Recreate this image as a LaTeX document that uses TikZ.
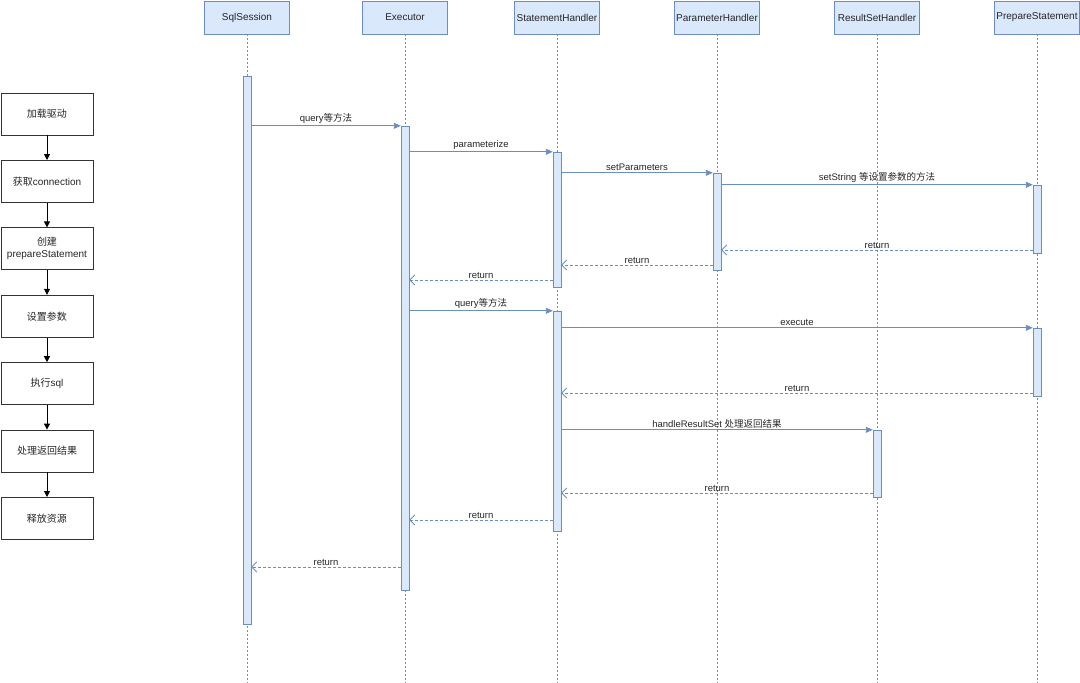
\documentclass[tikz,border=0pt]{standalone}
\usepackage{fontspec}
\setmainfont{Liberation Sans}
\newfontfamily\cjk{Noto Sans CJK SC}
\usetikzlibrary{positioning, arrows.meta}
\definecolor{actfill}{HTML}{DAE8FC}
\definecolor{actline}{HTML}{6C8EBF}
\tikzset{
 head/.style = {
    rectangle, draw=actline, fill=actfill,
    minimum width=85pt, minimum height=33pt,
    inner sep=0pt, text=black!85,
    font=\fontsize{10}{12}\selectfont},
 actbar/.style = {
    rectangle, draw=actline, fill=actfill,
    minimum width=8pt, inner sep=0pt},
 lifeline/.style = {
    draw=actline, line width=0.9pt, dash pattern=on 1.5pt off 2.5pt},
 call/.style = {
    draw=actline, line width=0.9pt, -{Triangle[length=7pt,width=6pt]}},
 ret/.style = {
    draw=actline, line width=0.8pt, dash pattern=on 2.5pt off 2.5pt,
    -{Straight Barb[length=5pt,width=10pt]}},
 msg/.style = {
    midway, above, inner sep=1.5pt, text=black!85,
    font=\fontsize{9.5}{11}\selectfont},
 stepbox/.style = {
    rectangle, draw=black!80, line width=0.8pt,
    minimum width=92pt, minimum height=42pt,
    align=center, inner sep=0pt, text=black!85,
    font=\fontsize{10}{12}\selectfont},
 flow/.style = {
    draw=black, line width=0.8pt, -{Triangle[length=6pt,width=6pt]}},
}
\begin{document}
\begin{tikzpicture}[x=1pt, y=-1pt, node distance=24.6pt]
\useasboundingbox (0,0) rectangle (1080,683);
\coordinate (bottom) at (0,683);

% Place participants
\node [head] (sql)   at (247,17.5)  {SqlSession};
\node [head] (exe)   at (405,17.5)  {Executor};
\node [head] (stmt)  at (557,17.5)  {StatementHandler};
\node [head] (param) at (717,17.5)  {ParameterHandler};
\node [head] (rset)  at (877,17.5)  {ResultSetHandler};
\node [head] (pst)   at (1037,17.5) {PrepareStatement};

\foreach \p in {sql, exe, stmt, param, rset, pst}
    \draw[lifeline] (\p.south) -- (\p |- bottom);

% Activation bars
\node [actbar, minimum height=548pt] (sqlA)   at (247,350)   {};
\node [actbar, minimum height=464pt] (exeA)   at (405,358)   {};
\node [actbar, minimum height=135pt] (stmtA)  at (557,219.5) {};
\node [actbar, minimum height=220pt] (stmtB)  at (557,421)   {};
\node [actbar, minimum height=97pt]  (paramA) at (717,221.5) {};
\node [actbar, minimum height=68pt]  (pstA)   at (1037,219)  {};
\node [actbar, minimum height=68pt]  (pstB)   at (1037,362)  {};
\node [actbar, minimum height=67pt]  (rsetA)  at (877,463.5) {};

% Return points
\coordinate (r1) at (pstA.west |- 0,250);
\coordinate (r2) at (paramA.west |- 0,265);
\coordinate (r3) at (stmtA.west |- 0,280);
\coordinate (r4) at (pstB.west |- 0,393);
\coordinate (r5) at (rsetA.west |- 0,493);
\coordinate (r6) at (stmtB.west |- 0,520);
\coordinate (r7) at (exeA.west |- 0,567);

% Messages
\draw[call] (sqlA.east |- exeA.north) -- (exeA.north west) node[msg] {query{\cjk 等方法}};
\draw[call] (exeA.east |- stmtA.north) -- (stmtA.north west) node[msg] {parameterize};
\draw[call] (stmtA.east |- paramA.north) -- (paramA.north west) node[msg] {setParameters};
\draw[call] (paramA.east |- pstA.north) -- (pstA.north west) node[msg] {setString {\cjk 等设置参数的方法}};
\draw[ret] (r1) -- (paramA.east |- r1) node[msg] {return};
\draw[ret] (r2) -- (stmtA.east |- r2) node[msg] {return};
\draw[ret] (r3) -- (exeA.east |- r3) node[msg] {return};
\draw[call] (exeA.east |- stmtB.north) -- (stmtB.north west) node[msg] {query{\cjk 等方法}};
\draw[call] (stmtB.east |- pstB.north) -- (pstB.north west) node[msg] {execute};
\draw[ret] (r4) -- (stmtB.east |- r4) node[msg] {return};
\draw[call] (stmtB.east |- rsetA.north) -- (rsetA.north west) node[msg] {handleResultSet {\cjk 处理返回结果}};
\draw[ret] (r5) -- (stmtB.east |- r5) node[msg] {return};
\draw[ret] (r6) -- (exeA.east |- r6) node[msg] {return};
\draw[ret] (r7) -- (sqlA.east |- r7) node[msg] {return};

% JDBC steps
\node [stepbox]                  (load) at (47,114) {{\cjk 加载驱动}};
\node [stepbox, below=of load]   (conn)  {{\cjk 获取}connection};
\node [stepbox, below=of conn]   (prep)  {{\cjk 创建}\\prepareStatement};
\node [stepbox, below=of prep]   (args)  {{\cjk 设置参数}};
\node [stepbox, below=of args]   (run)   {{\cjk 执行}sql};
\node [stepbox, below=of run]    (res)   {{\cjk 处理返回结果}};
\node [stepbox, below=of res]    (free)  {{\cjk 释放资源}};

\draw[flow] (load) -- (conn);
\draw[flow] (conn) -- (prep);
\draw[flow] (prep) -- (args);
\draw[flow] (args) -- (run);
\draw[flow] (run) -- (res);
\draw[flow] (res) -- (free);
\end{tikzpicture}
\end{document}
